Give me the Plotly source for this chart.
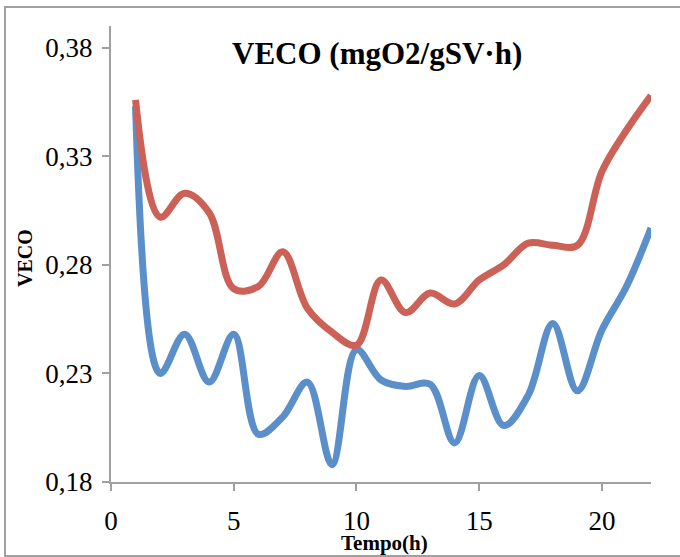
import plotly.graph_objects as go

# Hourly VECO readings for the two runs
hours = list(range(1, 23))
veco_blue = [0.353, 0.230, 0.248, 0.226, 0.248, 0.202, 0.210, 0.226, 0.188, 0.241,
             0.227, 0.224, 0.225, 0.198, 0.229, 0.206, 0.220, 0.253, 0.222, 0.250,
             0.270, 0.297]
veco_red = [0.356, 0.302, 0.313, 0.304, 0.269, 0.270, 0.286, 0.260, 0.249, 0.243,
            0.273, 0.258, 0.267, 0.262, 0.273, 0.280, 0.290, 0.289, 0.289, 0.323,
            0.342, 0.358]

x_ticks = [0, 5, 10, 15, 20]
y_ticks = [0.18, 0.23, 0.28, 0.33, 0.38]
y_tick_text = ["0,18", "0,23", "0,28", "0,33", "0,38"]

W, H = 680, 557
L, R, T, B = 111, 651, 26, 482  # plot area edges in pixels

fig = go.Figure()
fig.add_trace(go.Scatter(x=hours, y=veco_blue, mode="lines",
                         line=dict(color="#5B8FC9", width=7, shape="spline", smoothing=1)))
fig.add_trace(go.Scatter(x=hours, y=veco_red, mode="lines",
                         line=dict(color="#CC6157", width=7, shape="spline", smoothing=1)))

axis_color = "#A0A0A0"
fig.update_xaxes(range=[0, 22], tickvals=x_ticks, showgrid=False, zeroline=False,
                 showline=True, linecolor=axis_color, linewidth=2,
                 ticks="outside", ticklen=7, tickwidth=2, tickcolor=axis_color,
                 ticklabelstandoff=7,
                 tickfont=dict(family="Liberation Serif", size=27, color="#000"))
fig.update_yaxes(range=[0.18, 0.39], tickvals=y_ticks, ticktext=y_tick_text,
                 showgrid=False, zeroline=False,
                 showline=True, linecolor=axis_color, linewidth=2,
                 ticks="outside", ticklen=7, tickwidth=2, tickcolor=axis_color,
                 ticklabelstandoff=4,
                 tickfont=dict(family="Liberation Serif", size=27, color="#000"))

def px_x(p):
    return (p - L) / (R - L)

def px_y(p):
    return (B - p) / (B - T)

fig.add_annotation(text="<b>VECO (mgO2/gSV·h)</b>", xref="paper", yref="paper",
                   x=px_x(376.5), y=px_y(53.5), xanchor="center", yanchor="middle",
                   showarrow=False, font=dict(family="Liberation Serif", size=31, color="#000"))
fig.add_annotation(text="<b>Tempo(h)</b>", xref="paper", yref="paper",
                   x=px_x(384), y=px_y(543), xanchor="center", yanchor="middle",
                   showarrow=False, font=dict(family="Liberation Serif", size=21, color="#000"))
fig.add_annotation(text="<b>VECO</b>", xref="paper", yref="paper", textangle=-90,
                   x=px_x(25), y=px_y(258), xanchor="center", yanchor="middle",
                   showarrow=False, font=dict(family="Liberation Serif", size=20, color="#000"))

# chart frame
fig.add_shape(type="rect", xref="paper", yref="paper",
              x0=px_x(5), x1=px_x(684), y0=px_y(556), y1=px_y(7),
              line=dict(color="#A0A0A0", width=2), fillcolor="rgba(0,0,0,0)", layer="below")

fig.update_layout(width=W, height=H, showlegend=False,
                  margin=dict(l=L, r=W - R, t=T, b=H - B, pad=0),
                  paper_bgcolor="white", plot_bgcolor="white")

fig.write_html("out.html")
